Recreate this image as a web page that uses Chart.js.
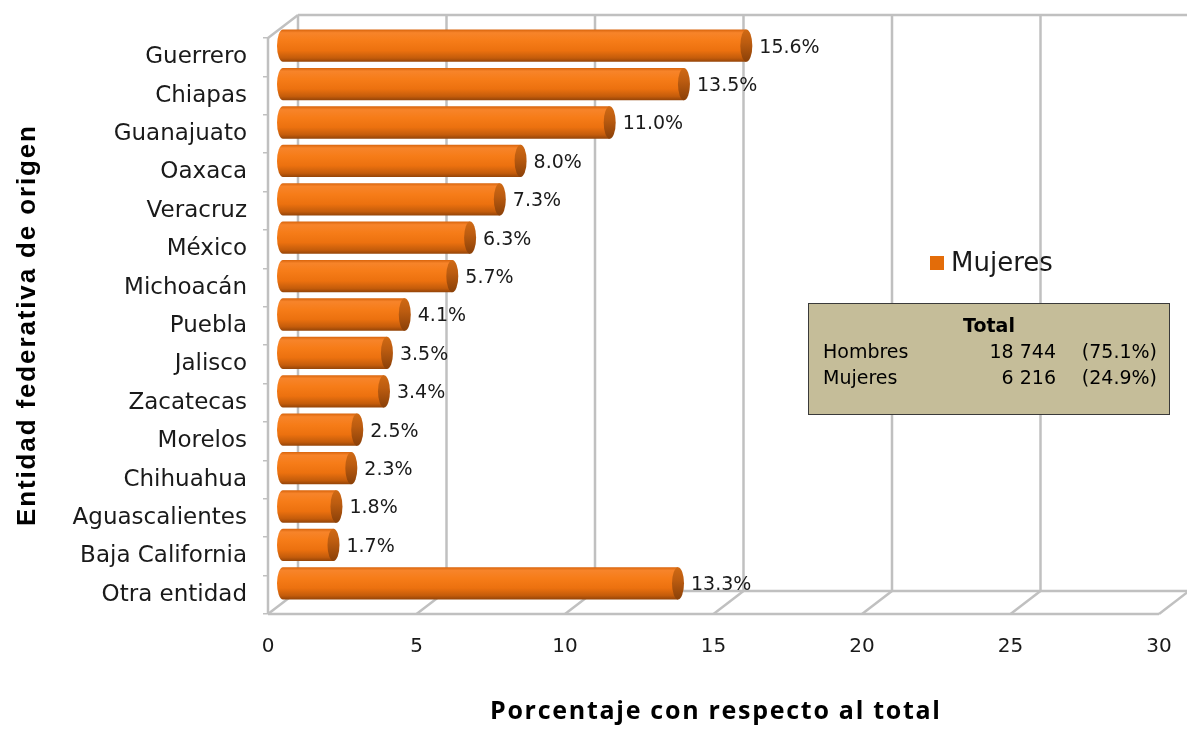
<!DOCTYPE html>
<html><head><meta charset="utf-8">
<script src="https://cdn.jsdelivr.net/npm/chart.js@4.4.0/dist/chart.umd.min.js"></script>
<style>html,body{margin:0;padding:0;background:#fff;overflow:hidden}</style>
</head><body>
<canvas id="c" width="1187" height="729"></canvas>
<script>
// ---- data ----
const categories = ['Guerrero','Chiapas','Guanajuato','Oaxaca','Veracruz','México','Michoacán','Puebla','Jalisco','Zacatecas','Morelos','Chihuahua','Aguascalientes','Baja California','Otra entidad'];
const mujeresPct = [15.6,13.5,11.0,8.0,7.3,6.3,5.7,4.1,3.5,3.4,2.5,2.3,1.8,1.7,13.3];
const xTickValues = [0,5,10,15,20,25,30];
const seriesName = 'Mujeres';
const boxTitle = 'Total';
const boxRows = ['Hombres','Mujeres'];
const boxCounts = ['18 744','6 216'];
const boxShares = ['(75.1%)','(24.9%)'];
const xTitle = 'Porcentaje con respecto al total';
const yTitle = 'Entidad federativa de origen';

// ---- style ----
const DEPTH = {dx: 30, dy: -23};
const GRID = '#C0C0C0';
const TEXT = '#1a1a1a';
const BAR_PCT = 0.84;

function bodyGradient(ctx, yc, h) {
  if (!isFinite(yc) || !isFinite(h) || h <= 0) return '#F47A17';
  const g = ctx.createLinearGradient(0, yc - h/2, 0, yc + h/2);
  g.addColorStop(0, '#D8640C');
  g.addColorStop(0.1, '#F7842A');
  g.addColorStop(0.35, '#F67C18');
  g.addColorStop(0.65, '#EC710F');
  g.addColorStop(0.88, '#C45C0B');
  g.addColorStop(1, '#944408');
  return g;
}
function capGradient(ctx, yc, h) {
  if (!isFinite(yc) || !isFinite(h) || h <= 0) return '#B8570C';
  const g = ctx.createLinearGradient(0, yc - h/2, 0, yc + h/2);
  g.addColorStop(0, '#D06A14');
  g.addColorStop(0.4, '#BC5C10');
  g.addColorStop(1, '#8A4008');
  return g;
}
function drawSpaced(ctx, text, cx, cy, font, target, rot) {
  ctx.save();
  ctx.font = font;
  ctx.translate(cx, cy);
  if (rot) ctx.rotate(rot);
  const chars = [...text];
  const widths = chars.map(c => ctx.measureText(c).width);
  const natural = widths.reduce((s, w) => s + w, 0);
  const sp = chars.length > 1 ? (target - natural) / (chars.length - 1) : 0;
  let x = -target / 2;
  ctx.textAlign = 'left';
  ctx.textBaseline = 'middle';
  chars.forEach((c, i) => { ctx.fillText(c, x, 0); x += widths[i] + sp; });
  ctx.restore();
}

const threeD = {
  id: 'threeD',
  beforeDatasetsDraw(chart) {
    const {ctx, chartArea: a, scales: {x}} = chart;
    const {dx, dy} = DEPTH;
    ctx.save();
    ctx.strokeStyle = GRID; ctx.lineWidth = 2.5;
    const line = (x1, y1, x2, y2) => { ctx.beginPath(); ctx.moveTo(x1, y1); ctx.lineTo(x2, y2); ctx.stroke(); };
    x.ticks.forEach(t => {
      const px = x.getPixelForValue(t.value);
      line(px + dx, a.top + dy, px + dx, a.bottom + dy);
      line(px, a.bottom, px + dx, a.bottom + dy);
    });
    line(a.left + dx, a.top + dy, a.right + dx, a.top + dy);
    line(a.left + dx, a.bottom + dy, a.right + dx, a.bottom + dy);
    line(a.left, a.bottom, a.right, a.bottom);
    line(a.left, a.top, a.left + dx, a.top + dy);
    line(a.left, a.top, a.left, a.bottom);
    ctx.restore();
    ctx.save();
    ctx.translate(dx / 2, dy / 2);
    const meta = chart.getDatasetMeta(0);
    meta.data.forEach(el => {
      const h = el.height;
      ctx.beginPath();
      ctx.ellipse(el.base, el.y, 6, h / 2, 0, Math.PI / 2, Math.PI * 1.5);
      ctx.closePath();
      ctx.fillStyle = bodyGradient(ctx, el.y, h);
      ctx.fill();
    });
  },
  afterDatasetsDraw(chart) {
    const {ctx} = chart;
    const meta = chart.getDatasetMeta(0);
    meta.data.forEach((el, i) => {
      const h = el.height;
      ctx.beginPath();
      ctx.ellipse(el.x, el.y, 6, h / 2, 0, 0, Math.PI * 2);
      ctx.fillStyle = capGradient(ctx, el.y, h);
      ctx.fill();
      ctx.fillStyle = TEXT;
      ctx.font = '19px "DejaVu Sans"';
      ctx.textAlign = 'left';
      ctx.textBaseline = 'middle';
      ctx.fillText(mujeresPct[i].toFixed(1) + '%', el.x + 13, el.y + 2);
    });
    ctx.restore();
  },
  afterDraw(chart) {
    const {ctx, chartArea: a} = chart;
    ctx.save();
    ctx.fillStyle = '#E36C09';
    ctx.fillRect(930, 256, 14, 14);
    ctx.fillStyle = TEXT;
    ctx.font = '26px "DejaVu Sans"';
    ctx.textAlign = 'left'; ctx.textBaseline = 'middle';
    ctx.fillText(seriesName, 951, 264);
    ctx.fillStyle = '#C5BD99';
    ctx.fillRect(808.5, 303.5, 361, 111);
    ctx.strokeStyle = '#3a3a3a'; ctx.lineWidth = 1;
    ctx.strokeRect(808.5, 303.5, 361, 111);
    ctx.fillStyle = '#000';
    ctx.font = 'bold 19px "DejaVu Sans"';
    ctx.textAlign = 'center';
    ctx.fillText(boxTitle, 989, 327);
    ctx.font = '19px "DejaVu Sans"';
    boxRows.forEach((r, i) => {
      const y = 353 + i * 26;
      ctx.textAlign = 'left'; ctx.fillText(r, 823, y);
      ctx.textAlign = 'right'; ctx.fillText(boxCounts[i], 1056, y);
      ctx.fillText(boxShares[i], 1157, y);
    });
    ctx.restore();
    ctx.fillStyle = '#000';
    drawSpaced(ctx, yTitle, 28, (a.top + a.bottom) / 2, 'bold 26px "Liberation Sans"', 400, -Math.PI / 2);
    drawSpaced(ctx, xTitle, 715, 712, 'bold 25px "Open Sans"', 450, 0);
  }
};

new Chart(document.getElementById('c'), {
  type: 'bar',
  data: {
    labels: categories,
    datasets: [{
      label: seriesName,
      data: mujeresPct,
      barPercentage: BAR_PCT,
      categoryPercentage: 1,
      borderWidth: 0,
      backgroundColor: (c) => {
        if (c.type !== 'data') return '#F47A17';
        const ys = c.chart.scales.y;
        if (!ys) return '#F47A17';
        const band = (ys.bottom - ys.top) / categories.length * BAR_PCT;
        return bodyGradient(c.chart.ctx, ys.getPixelForValue(c.dataIndex), band);
      },
      clip: false
    }]
  },
  options: {
    indexAxis: 'y',
    responsive: false,
    animation: false,
    devicePixelRatio: 1,
    layout: {padding: {top: 38, right: 28, left: 0, bottom: 0}},
    plugins: {legend: {display: false}, tooltip: {enabled: false}},
    scales: {
      x: {
        type: 'linear', min: 0, max: 30,
        afterBuildTicks: s => { s.ticks = xTickValues.map(v => ({value: v})); },
        afterFit: s => { s.height = 115; },
        grid: {display: false},
        border: {display: false},
        ticks: {font: {family: 'DejaVu Sans', size: 20}, color: TEXT, padding: 13, maxRotation: 0}
      },
      y: {
        afterFit: s => { s.width = 268; },
        grid: {display: true, drawOnChartArea: false, drawTicks: true, tickLength: 5, color: GRID, lineWidth: 1.5, offset: true},
        border: {display: false},
        ticks: {font: {family: 'DejaVu Sans', size: 23}, color: TEXT, padding: 16}
      }
    }
  },
  plugins: [threeD]
});
</script>
</body></html>
